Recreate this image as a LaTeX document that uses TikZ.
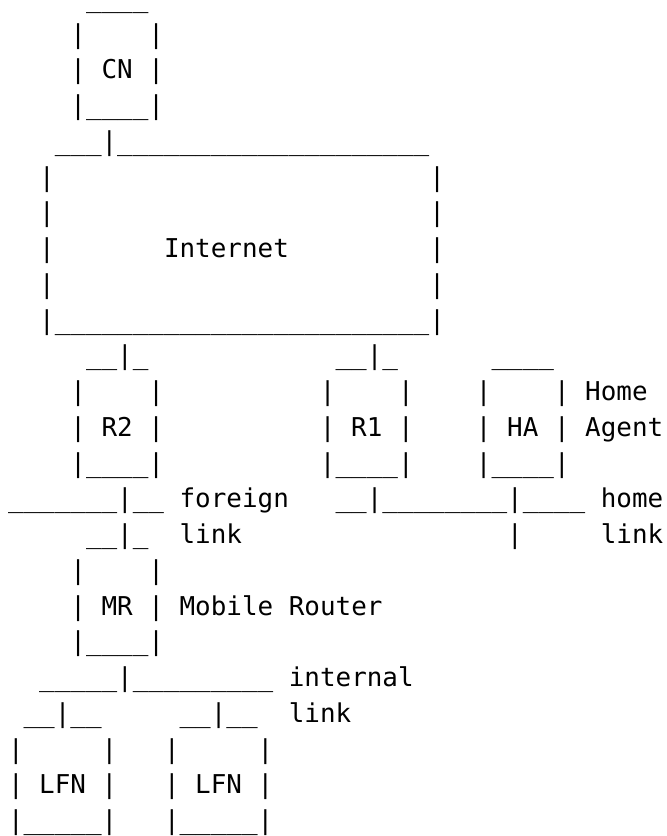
\documentclass[tikz,border=0pt]{standalone}
\usepackage{fontspec}
\newfontfamily\asciifont{DejaVu Sans Mono}
\newcommand{\bars}[1]{\foreach \k in {1,...,#1}{\_}}
\newcommand{\blanks}[1]{\foreach \k in {1,...,#1}{~}}

\begin{document}
\begin{tikzpicture}[x=7.8pt,y=-17.875pt,
    ascii/.style={anchor=base west, inner sep=0pt, outer sep=0pt,
                  font=\asciifont\fontsize{12.96pt}{15pt}\selectfont}]
  \useasboundingbox (-0.513,-0.203) rectangle (42.244,23.182);
  % correspondent node
  \node[ascii, text height=1pt] (cntop) at (5,0) {\bars{4}};
  \node[ascii] (cnside) at (4,1) {|\blanks{4}|};
  \node[ascii] (cn) at (4,2) {| CN |};
  \node[ascii] (cnbot) at (4,3) {|\bars{4}|};
  % internet cloud
  \node[ascii] (inettop) at (3,4) {\bars{3}|\bars{20}};
  \node[ascii] (inetside1) at (2,5) {|\blanks{24}|};
  \node[ascii] (inetside2) at (2,6) {|\blanks{24}|};
  \node[ascii] (inet) at (2,7) {|\blanks{7}Internet\blanks{9}|};
  \node[ascii] (inetside3) at (2,8) {|\blanks{24}|};
  \node[ascii] (inetbot) at (2,9) {|\bars{24}|};
  % routers and home agent
  \node[ascii] (rtwotop) at (5,10) {\bars{2}|\_};
  \node[ascii] (ronetop) at (21,10) {\bars{2}|\_};
  \node[ascii] (hatop) at (31,10) {\bars{4}};
  \node[ascii] (rtwoside) at (4,11) {|\blanks{4}|};
  \node[ascii] (roneside) at (20,11) {|\blanks{4}|};
  \node[ascii] (haside) at (30,11) {|\blanks{4}| Home};
  \node[ascii] (rtwo) at (4,12) {| R2 |};
  \node[ascii] (rone) at (20,12) {| R1 |};
  \node[ascii] (ha) at (30,12) {| HA | Agent};
  \node[ascii] (rtwobot) at (4,13) {|\bars{4}|};
  \node[ascii] (ronebot) at (20,13) {|\bars{4}|};
  \node[ascii] (habot) at (30,13) {|\bars{4}|};
  % foreign and home links
  \node[ascii] (flink) at (0,14) {\bars{7}|\bars{2} foreign};
  \node[ascii] (hlink) at (21,14) {\bars{2}|\bars{8}|\bars{4} home};
  \node[ascii] (mrtop) at (5,15) {\bars{2}|\_};
  \node[ascii] (flinklbl) at (11,15) {link};
  \node[ascii] (hlinkdrop) at (32,15) {|};
  \node[ascii] (hlinklbl) at (38,15) {link};
  % mobile router
  \node[ascii] (mrside) at (4,16) {|\blanks{4}|};
  \node[ascii] (mr) at (4,17) {| MR | Mobile Router};
  \node[ascii] (mrbot) at (4,18) {|\bars{4}|};
  % internal link and local fixed nodes
  \node[ascii] (ilink) at (2,19) {\bars{5}|\bars{9} internal};
  \node[ascii] (lfnatop) at (1,20) {\bars{2}|\bars{2}};
  \node[ascii] (lfnbtop) at (11,20) {\bars{2}|\bars{2}};
  \node[ascii] (ilinklbl) at (18,20) {link};
  \node[ascii] (lfnaside) at (0,21) {|\blanks{5}|};
  \node[ascii] (lfnbside) at (10,21) {|\blanks{5}|};
  \node[ascii] (lfna) at (0,22) {| LFN |};
  \node[ascii] (lfnb) at (10,22) {| LFN |};
  \node[ascii] (lfnabot) at (0,23) {|\bars{5}|};
  \node[ascii] (lfnbbot) at (10,23) {|\bars{5}|};
\end{tikzpicture}
\end{document}
